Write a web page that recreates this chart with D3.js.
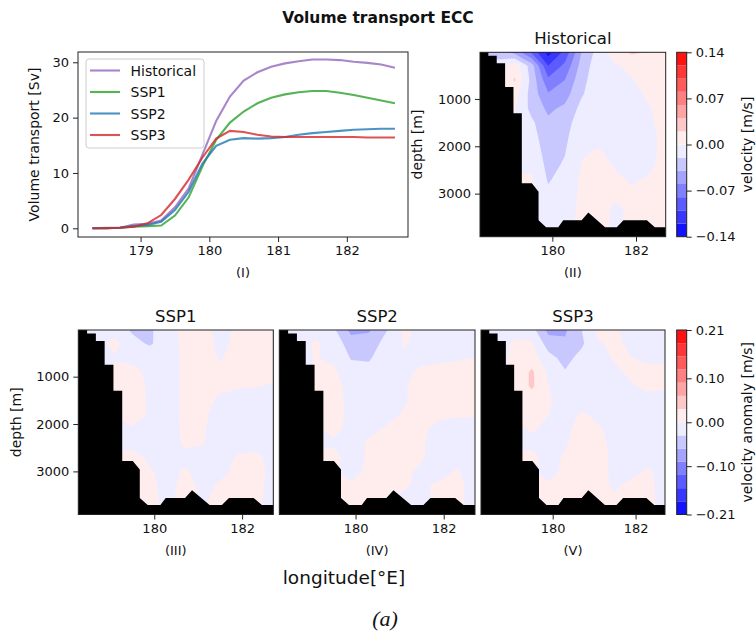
<!DOCTYPE html>
<html>
<head>
<meta charset="utf-8">
<script src="https://cdn.jsdelivr.net/npm/d3@7"></script>
<style>
body { margin: 0; background: #fff; }
text { font-family: "DejaVu Sans", sans-serif; fill: #111; }
</style>
</head>
<body>
<svg id="fig" width="756" height="635"></svg>
<script>
// transport along the section, Sv
var transportLon = [178.3, 178.5, 178.7, 178.9, 179.1, 179.3, 179.5, 179.7, 179.9, 180.1, 180.3, 180.5,
    180.7, 180.9, 181.1, 181.3, 181.5, 181.7, 181.9, 182.1, 182.3, 182.5, 182.7];
var historicalSv = [0, 0.1, 0.1, 0.7, 0.8, 1.4, 3.8, 7.2, 13.3, 19.4, 23.8, 26.7, 28.2, 29.2, 29.8, 30.2, 30.5, 30.5, 30.4, 30.1, 29.9, 29.6, 29.0];
var ssp1Sv = [0, 0, 0.1, 0.3, 0.4, 0.5, 2.3, 5.6, 11.2, 16.0, 19.1, 21.1, 22.6, 23.6, 24.2, 24.6, 24.8, 24.8, 24.5, 24.1, 23.6, 23.1, 22.6];
var ssp2Sv = [0, 0, 0.1, 0.4, 0.6, 1.2, 3.3, 6.6, 11.7, 14.9, 16.0, 16.3, 16.2, 16.3, 16.5, 16.9, 17.2, 17.4, 17.6, 17.8, 17.9, 18.0, 18.0];
var ssp3Sv = [0, 0, 0.1, 0.3, 0.9, 2.4, 5.3, 8.8, 12.8, 16.2, 17.6, 17.4, 16.9, 16.6, 16.5, 16.5, 16.5, 16.5, 16.5, 16.5, 16.4, 16.4, 16.4];
var seriesNames = ['Historical', 'SSP1', 'SSP2', 'SSP3'];
var seriesColors = ['#9467bd', '#2ca02c', '#1f77b4', '#d62728'];

var transportXTicks = [179, 180, 181, 182];
var transportYTicks = [0, 10, 20, 30];
var lonTicks = [180, 182];
var depthTicks = [1000, 2000, 3000];
var velTicks = [-0.14, -0.07, 0, 0.07, 0.14];
var anomTicks = [-0.21, -0.10, 0, 0.10, 0.21];

// section grid: rows = depth, columns = longitude
var gridLon = [178.3, 178.7, 179.1, 179.5, 179.9, 180.3, 180.7, 181.1, 181.5, 181.9, 182.3, 182.7];
var gridDepth = [0, 300, 600, 900, 1200, 1500, 1800, 2100, 2400, 2700, 3000, 3300, 3600, 3900];

var velHistorical = [
    [-0.02, -0.03, -0.05, -0.085, -0.13, -0.095, -0.04, -0.012, 0.012, 0.024, 0.02, 0.01],
    [-0.012, -0.012, 0.012, -0.03, -0.1, -0.075, -0.032, -0.008, -0.002, 0.005, 0.01, 0.01],
    [-0.01, -0.005, 0.022, -0.026, -0.075, -0.06, -0.026, -0.008, -0.005, -0.001, 0.006, 0.008],
    [-0.01, -0.005, 0.008, -0.028, -0.058, -0.048, -0.022, -0.007, -0.006, -0.004, 0.002, 0.006],
    [-0.01, -0.005, 0.002, -0.026, -0.044, -0.036, -0.014, -0.006, -0.006, -0.005, -0.001, 0.004],
    [-0.01, -0.01, -0.005, -0.016, -0.036, -0.028, -0.009, -0.005, -0.005, -0.005, -0.002, 0.004],
    [-0.01, -0.01, -0.008, -0.012, -0.032, -0.024, -0.006, -0.004, -0.005, -0.005, -0.003, 0.003],
    [-0.01, -0.01, -0.008, -0.009, -0.028, -0.021, -0.002, 0.001, -0.003, -0.004, -0.003, 0.003],
    [-0.005, -0.005, -0.005, -0.005, -0.025, -0.018, 0.001, 0.004, -0.001, -0.003, -0.002, 0.003],
    [0.004, 0.004, 0.004, 0.003, -0.022, -0.012, 0.003, 0.005, 0.002, -0.001, 0.001, 0.004],
    [0.004, 0.004, 0.004, 0.003, -0.016, -0.008, 0.003, 0.005, 0.003, 0.001, 0.002, 0.004],
    [0.003, 0.003, 0.003, 0.002, -0.01, -0.006, 0.003, 0.005, -0.002, 0.002, 0.003, 0.004],
    [0.002, 0.002, 0.002, 0.002, -0.005, -0.004, 0.003, 0.004, -0.002, 0.002, 0.003, 0.004],
    [0.002, 0.002, 0.002, 0.002, -0.005, -0.004, 0.003, 0.004, -0.002, 0.002, 0.003, 0.004]
];
var anomSSP1 = [
    [-0.01, -0.01, -0.01, -0.035, -0.035, -0.01, 0.008, 0.01, -0.008, 0.005, 0.01, 0.01],
    [-0.01, -0.01, 0.008, -0.02, -0.034, -0.012, 0.006, 0.01, -0.006, 0.006, 0.01, 0.01],
    [-0.01, -0.01, -0.002, -0.008, -0.01, -0.012, 0.006, 0.01, -0.002, 0.008, 0.01, 0.01],
    [-0.01, -0.01, 0.006, 0.008, -0.006, -0.012, 0.006, 0.01, 0.006, 0.01, 0.01, 0.008],
    [-0.01, -0.01, 0.006, 0.01, -0.004, -0.012, 0.006, 0.01, 0.004, 0.002, 0.001, -0.002],
    [-0.01, -0.01, 0.004, 0.01, -0.003, -0.012, 0.006, 0.008, -0.004, -0.008, -0.01, -0.01],
    [-0.01, -0.01, 0.002, 0.008, -0.002, -0.012, 0.006, 0.004, -0.008, -0.01, -0.01, -0.01],
    [-0.01, -0.01, -0.006, -0.002, -0.004, -0.012, 0.005, 0.002, -0.008, -0.01, -0.01, -0.01],
    [-0.01, -0.01, -0.008, -0.006, -0.006, -0.01, 0.003, 0.001, -0.008, -0.008, -0.01, -0.01],
    [0.005, 0.005, 0.006, 0.006, -0.004, -0.008, -0.004, -0.006, -0.008, 0.002, 0.006, -0.008],
    [0.005, 0.005, 0.006, 0.006, 0.002, -0.006, 0.002, -0.006, -0.004, 0.004, 0.008, -0.006],
    [0.005, 0.005, 0.005, 0.005, 0.004, -0.006, 0.006, -0.004, 0.002, 0.004, 0.006, -0.006],
    [0.004, 0.004, 0.004, 0.004, 0.004, -0.004, 0.006, -0.002, 0.004, 0.004, 0.004, -0.006],
    [0.004, 0.004, 0.004, 0.004, 0.004, -0.004, 0.006, -0.002, 0.004, 0.004, 0.004, -0.006]
];
var anomSSP2 = [
    [-0.01, -0.01, -0.01, -0.025, -0.07, -0.065, -0.032, 0.004, -0.006, -0.008, -0.008, -0.008],
    [-0.01, -0.01, 0.004, -0.012, -0.045, -0.045, -0.02, 0.002, -0.006, -0.008, -0.008, -0.006],
    [-0.01, -0.01, 0.002, -0.008, -0.032, -0.034, -0.012, -0.004, -0.006, -0.004, -0.002, 0.0],
    [-0.01, -0.01, 0.002, 0.006, -0.02, -0.02, -0.01, -0.004, 0.004, 0.006, 0.006, 0.006],
    [-0.01, -0.01, 0.004, 0.008, -0.008, -0.012, -0.008, -0.002, 0.008, 0.008, 0.008, 0.008],
    [-0.01, -0.01, 0.004, 0.008, -0.006, -0.01, -0.008, -0.002, 0.008, 0.008, 0.008, 0.008],
    [-0.01, -0.01, 0.002, 0.006, -0.004, -0.01, -0.006, 0.002, 0.006, 0.004, 0.002, 0.002],
    [-0.01, -0.01, -0.002, 0.004, -0.004, -0.004, 0.002, 0.006, 0.004, -0.006, -0.008, -0.008],
    [-0.006, -0.006, -0.004, -0.002, -0.006, 0.002, 0.006, 0.006, 0.002, -0.008, -0.008, -0.008],
    [0.004, 0.004, 0.004, 0.004, -0.006, 0.002, 0.004, 0.006, 0.002, -0.008, -0.006, -0.008],
    [0.004, 0.004, 0.004, 0.002, -0.006, 0.004, 0.002, 0.004, -0.004, -0.008, 0.002, -0.008],
    [0.002, 0.002, 0.002, 0.0, 0.002, 0.004, 0.0, 0.002, -0.004, 0.004, 0.004, -0.006],
    [0.002, 0.002, 0.002, 0.002, 0.004, 0.004, 0.0, -0.004, -0.004, 0.004, 0.004, -0.006],
    [0.002, 0.002, 0.002, 0.002, 0.004, 0.004, 0.0, -0.004, -0.004, 0.004, 0.004, -0.006]
];
var anomSSP3 = [
    [-0.01, -0.01, -0.008, -0.02, -0.07, -0.065, -0.03, 0.006, 0.002, -0.006, -0.008, -0.008],
    [-0.01, -0.008, 0.004, 0.004, -0.045, -0.055, -0.035, -0.002, 0.004, -0.004, -0.006, -0.006],
    [-0.01, -0.008, 0.006, 0.012, -0.02, -0.04, -0.02, -0.006, 0.002, 0.0, -0.004, -0.004],
    [-0.01, -0.006, 0.01, 0.035, -0.006, -0.028, -0.012, -0.006, -0.004, 0.004, 0.006, 0.004],
    [-0.01, -0.006, 0.01, 0.035, 0.0, -0.012, -0.008, -0.006, -0.006, -0.002, 0.004, 0.002],
    [-0.01, -0.006, 0.008, 0.012, 0.002, -0.008, -0.008, -0.006, -0.006, -0.006, -0.006, -0.006],
    [-0.01, -0.006, 0.004, 0.008, 0.0, -0.006, 0.002, -0.004, -0.006, -0.006, -0.006, -0.006],
    [-0.01, -0.008, -0.004, 0.002, -0.004, -0.004, 0.006, 0.002, -0.006, -0.006, -0.006, -0.006],
    [-0.008, -0.008, -0.006, -0.004, -0.006, -0.002, 0.008, 0.004, -0.004, -0.006, -0.006, -0.006],
    [0.004, 0.004, 0.004, 0.004, -0.006, 0.002, 0.008, 0.006, -0.004, -0.006, -0.004, -0.006],
    [0.004, 0.004, 0.004, 0.002, -0.006, 0.004, 0.006, 0.006, -0.004, -0.004, 0.002, -0.006],
    [0.002, 0.002, 0.002, 0.002, 0.002, 0.004, 0.004, 0.004, -0.002, 0.004, 0.004, -0.006],
    [0.002, 0.002, 0.002, 0.002, 0.004, 0.004, 0.002, 0.0, 0.002, 0.004, 0.004, -0.006],
    [0.002, 0.002, 0.002, 0.002, 0.004, 0.004, 0.002, 0.0, 0.002, 0.004, 0.004, -0.006]
];

// sea floor outline (lon, depth m)
var bathyLon = [178.1, 178.47, 178.47, 178.67, 178.67, 178.87, 178.87, 179.07, 179.07, 179.27, 179.27, 179.51,
    179.67, 179.67, 179.85, 180.14, 180.26, 180.70, 180.86, 181.26, 181.54, 181.70, 182.26, 182.45, 182.9, 182.9, 178.1];
var bathyDepth = [0, 0, 90, 90, 245, 245, 750, 750, 1300, 1300, 2780, 2780,
    2960, 3560, 3710, 3710, 3560, 3560, 3400, 3710, 3710, 3560, 3560, 3710, 3710, 4100, 4100];

var velLevels = d3.range(15).map(function (i) { return -0.14 + i * 0.02; });
var anomLevels = d3.range(15).map(function (i) { return -0.21 + i * 0.03; });

var svg = d3.select('#fig');
var lonDomain = [178.27, 182.71],
    depthDomain = [15, 3910];

var bwrScale = d3.scaleLinear().domain([0, 0.5, 1]).range(['#0000ff', '#ffffff', '#ff0000']);
function bandColors(levels) {
    var n = levels.length - 1;
    return d3.range(n).map(function (i) { return bwrScale((i + 0.5) / n); });
}

function styleAxis(g, size) {
    g.select('.domain').remove();
    g.selectAll('.tick line').attr('stroke', '#222').attr('stroke-width', 1);
    g.selectAll('.tick text').attr('font-size', size || 13).attr('font-family', '"DejaVu Sans", sans-serif').attr('fill', '#111');
}

function frame(box) {
    svg.append('rect').attr('x', box.x).attr('y', box.y).attr('width', box.w).attr('height', box.h)
        .attr('fill', 'none').attr('stroke', '#222').attr('stroke-width', 1);
}

function label(txt, x, y, opts) {
    opts = opts || {};
    var t = svg.append('text').attr('x', x).attr('y', y).attr('text-anchor', opts.anchor || 'middle')
        .attr('font-size', opts.size || 14).text(txt);
    if (opts.rotate) t.attr('transform', 'rotate(' + opts.rotate + ',' + x + ',' + y + ')');
    if (opts.weight) t.attr('font-weight', opts.weight);
    if (opts.family) t.style('font-family', opts.family);
    if (opts.italic) t.attr('font-style', 'italic');
    return t;
}

var clipCount = 0;
function contourPanel(box, grid, levels, title, sub, showDepth) {
    var x = d3.scaleLinear().domain(lonDomain).range([box.x, box.x + box.w]);
    var y = d3.scaleLinear().domain(depthDomain).range([box.y, box.y + box.h]);
    var nx = gridLon.length, ny = gridDepth.length;
    var gx = d3.scaleLinear().domain([0.5, nx - 0.5]).range([x(gridLon[0]), x(gridLon[nx - 1])]);
    var gy = d3.scaleLinear().domain([0.5, ny - 0.5]).range([y(gridDepth[0]), y(gridDepth[ny - 1])]);
    var path = d3.geoPath(d3.geoTransform({
        point: function (px, py) { this.stream.point(gx(px), gy(py)); }
    }));
    var colors = bandColors(levels);
    var id = 'clip' + (clipCount++);
    svg.append('clipPath').attr('id', id).append('rect')
        .attr('x', box.x).attr('y', box.y).attr('width', box.w).attr('height', box.h);
    var g = svg.append('g').attr('clip-path', 'url(#' + id + ')');
    var bands = d3.contours().size([nx, ny]).thresholds(levels.slice(0, -1))(grid.flat());
    g.selectAll('path.band').data(bands).enter().append('path')
        .attr('class', 'band')
        .attr('d', path)
        .attr('fill', function (d, i) { return colors[i]; });
    var floor = bathyLon.map(function (lon, i) { return [x(lon), y(bathyDepth[i])]; });
    g.append('path').attr('d', d3.line()(floor) + 'Z').attr('fill', '#000');

    svg.append('g').attr('transform', 'translate(0,' + (box.y + box.h) + ')')
        .call(d3.axisBottom(x).tickValues(lonTicks).tickSize(5).tickPadding(4).tickFormat(d3.format('d')))
        .call(styleAxis);
    if (showDepth) {
        svg.append('g').attr('transform', 'translate(' + box.x + ',0)')
            .call(d3.axisLeft(y).tickValues(depthTicks).tickSize(5).tickPadding(4).tickFormat(d3.format('d')))
            .call(styleAxis);
    }
    frame(box);
    label(title, box.x + box.w / 2, box.y - 8, {size: 16.5});
    label(sub, box.x + box.w / 2, box.y + box.h + 40, {size: 13});
}

function colorbar(box, levels, ticks, title) {
    var y = d3.scaleLinear().domain([levels[0], levels[levels.length - 1]]).range([box.y + box.h, box.y]);
    var colors = bandColors(levels);
    svg.append('g').selectAll('rect').data(colors).enter().append('rect')
        .attr('x', box.x).attr('width', box.w)
        .attr('y', function (d, i) { return y(levels[i + 1]); })
        .attr('height', function (d, i) { return y(levels[i]) - y(levels[i + 1]); })
        .attr('fill', function (d) { return d; });
    svg.append('g').attr('transform', 'translate(' + (box.x + box.w) + ',0)')
        .call(d3.axisRight(y).tickValues(ticks).tickSize(5).tickPadding(4).tickFormat(d3.format('.2f')))
        .call(styleAxis);
    frame(box);
    label(title, 752, box.y + box.h / 2, {rotate: -90, size: 14});
}

// ---- panel (I): transport
var lineBox = {x: 78, y: 52, w: 330, h: 185};
var tx = d3.scaleLinear().domain([178.09, 182.89]).range([lineBox.x, lineBox.x + lineBox.w]);
var ty = d3.scaleLinear().domain([-1.57, 31.86]).range([lineBox.y + lineBox.h, lineBox.y]);
var allSeries = [historicalSv, ssp1Sv, ssp2Sv, ssp3Sv];
var line = d3.line()
    .x(function (d, i) { return tx(transportLon[i]); })
    .y(function (d) { return ty(d); });
svg.append('g').selectAll('path').data(allSeries).enter().append('path')
    .attr('d', line)
    .attr('fill', 'none')
    .attr('stroke', function (d, i) { return seriesColors[i]; })
    .attr('stroke-opacity', 0.8)
    .attr('stroke-width', 2.1);
svg.append('g').attr('transform', 'translate(0,' + (lineBox.y + lineBox.h) + ')')
    .call(d3.axisBottom(tx).tickValues(transportXTicks).tickSize(5).tickPadding(4).tickFormat(d3.format('d')))
    .call(styleAxis);
svg.append('g').attr('transform', 'translate(' + lineBox.x + ',0)')
    .call(d3.axisLeft(ty).tickValues(transportYTicks).tickSize(5).tickPadding(4).tickFormat(d3.format('d')))
    .call(styleAxis);
frame(lineBox);
label('Volume transport [Sv]', 39, lineBox.y + lineBox.h / 2, {rotate: -90});
label('(I)', lineBox.x + lineBox.w / 2, 277, {size: 13});

// legend
var legend = svg.append('g');
legend.append('rect').attr('x', 86).attr('y', 59).attr('width', 118).attr('height', 89)
    .attr('rx', 3).attr('fill', '#fff').attr('fill-opacity', 0.8).attr('stroke', '#ccc');
seriesNames.forEach(function (name, i) {
    var ly = 70.5 + i * 21.5;
    legend.append('line').attr('x1', 90).attr('x2', 120).attr('y1', ly).attr('y2', ly)
        .attr('stroke', seriesColors[i]).attr('stroke-opacity', 0.8).attr('stroke-width', 2.1);
    legend.append('text').attr('x', 130.5).attr('y', ly + 5).attr('font-size', 14).text(name);
});

// ---- sections
var histBox = {x: 480, y: 52.3, w: 185.7, h: 184.4};
contourPanel(histBox, velHistorical, velLevels, 'Historical', '(II)', true);
label('depth [m]', 422, histBox.y + histBox.h / 2, {rotate: -90});
colorbar({x: 676.7, y: 52.3, w: 10, h: 184.4}, velLevels, velTicks, 'velocity [m/s]');

var botY = 330, botH = 184.5;
contourPanel({x: 78.3, y: botY, w: 195, h: botH}, anomSSP1, anomLevels, 'SSP1', '(III)', true);
contourPanel({x: 279.3, y: botY, w: 195.7, h: botH}, anomSSP2, anomLevels, 'SSP2', '(IV)', false);
contourPanel({x: 481, y: botY, w: 184, h: botH}, anomSSP3, anomLevels, 'SSP3', '(V)', false);
label('depth [m]', 20.5, botY + botH / 2, {rotate: -90});
colorbar({x: 676.7, y: botY, w: 10, h: botH}, anomLevels, anomTicks, 'velocity anomaly [m/s]');

label('Volume transport ECC', 378, 22.5, {size: 15.5, weight: 'bold'});
label('longitude[°E]', 344, 584, {size: 18.5});
label('(a)', 385, 626, {size: 22, italic: true, family: '"Liberation Serif", serif'});
</script>
</body>
</html>
